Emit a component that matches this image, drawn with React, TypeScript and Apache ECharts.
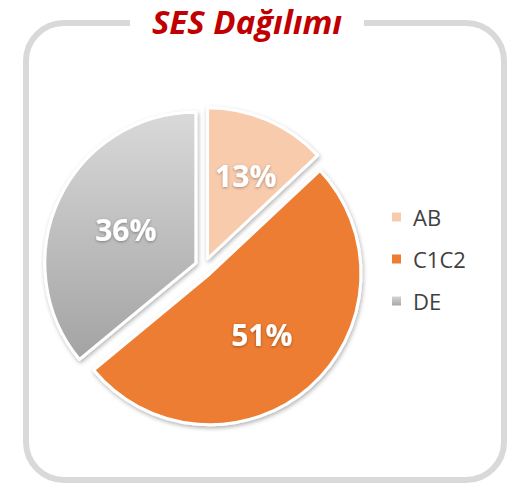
import React, { useEffect, useRef } from "react";
import * as echarts from "echarts";

const titleText = "SES Dağılımı";
const categories = ["AB", "C1C2", "DE"];
const values = [13, 51, 36];

export default function App() {
  const ref = useRef<HTMLDivElement>(null);
  useEffect(() => {
    if (!ref.current) return;
    const chart = echarts.init(ref.current, undefined, { renderer: "svg" });
    const colors = [
      "#F8CBAD",
      "#ED7D31",
      new echarts.graphic.LinearGradient(0, 0, 0, 1, [
        { offset: 0, color: "#D9D9D9" },
        { offset: 1, color: "#A3A3A3" },
      ]),
    ];
    const labelShift = [[7, -11], [0, 2], [1, 0]];
    chart.setOption({
      animation: false,
      backgroundColor: "#ffffff",
      graphic: [
        {
          type: "rect",
          shape: { x: 26, y: 23, width: 478, height: 457, r: 38 },
          style: { fill: "none", stroke: "#D9D9D9", lineWidth: 6 },
          z: 1,
        },
        {
          type: "rect",
          shape: { x: 130, y: 2, width: 234, height: 40 },
          style: { fill: "#ffffff" },
          z: 2,
        },
        {
          type: "text",
          x: 247,
          y: 21,
          style: {
            text: titleText,
            fill: "#C00000",
            font: "italic bold 33px 'Open Sans'",
            align: "center",
            verticalAlign: "middle",
          },
          z: 3,
        },
      ],
      legend: {
        orient: "vertical",
        left: 390,
        top: 206,
        padding: 0,
        itemWidth: 11,
        itemHeight: 11,
        itemGap: 20,
        icon: "rect",
        data: categories,
        textStyle: {
          color: "#404040",
          fontSize: 22,
          fontFamily: "'Open Sans'",
          padding: [0, 0, 0, 6],
        },
      },
      series: [
        {
          type: "pie",
          center: [204, 267],
          radius: [0, 151],
          startAngle: 90,
          clockwise: true,
          selectedMode: "multiple",
          selectedOffset: 9,
          avoidLabelOverlap: false,
          itemStyle: {
            borderColor: "#ffffff",
            borderWidth: 3,
            shadowColor: "rgba(0,0,0,0.3)",
            shadowBlur: 4,
            shadowOffsetX: 1,
            shadowOffsetY: 2,
          },
          label: {
            show: true,
            position: "inside",
            formatter: "{d}%",
            color: "#ffffff",
            fontSize: 30,
            fontWeight: "bold",
            fontFamily: "'Open Sans'",
            textShadowColor: "rgba(0,0,0,0.35)",
            textShadowBlur: 3,
            textShadowOffsetY: 1,
          },
          labelLayout: (p: any) => ({
            dx: labelShift[p.dataIndex][0],
            dy: labelShift[p.dataIndex][1],
          }),
          labelLine: { show: false },
          emphasis: { disabled: true },
          data: categories.map((name, i) => ({
            name,
            value: values[i],
            selected: true,
            itemStyle: { color: colors[i] },
            select: { itemStyle: { color: colors[i], borderColor: "#ffffff", borderWidth: 3 } },
          })),
        },
      ],
    });
    return () => chart.dispose();
  }, []);
  return (
    <div
      ref={ref}
      style={{ position: "fixed", left: 0, top: 0, width: 508, height: 487 }}
    />
  );
}
